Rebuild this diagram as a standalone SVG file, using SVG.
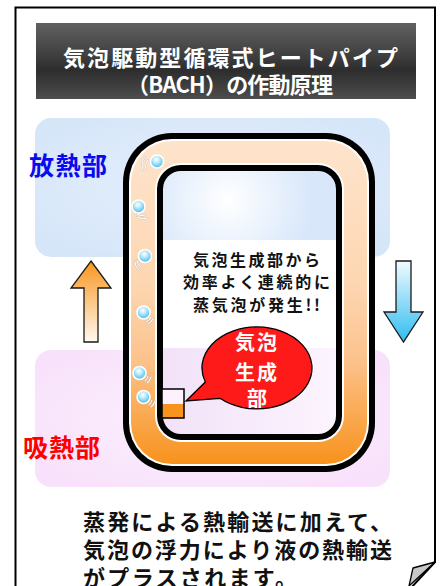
<svg xmlns="http://www.w3.org/2000/svg" width="441" height="586" viewBox="0 0 441 586">
  <style>
    .jp { font-family: "Noto Sans CJK JP", "Noto Sans", sans-serif; font-weight: 700; }
    .title { fill: #ffffff; font-size: 22px; }
    .zone-label { font-size: 25px; }
    .body { fill: #111111; font-size: 16px; }
    .call { fill: #ffffff; font-size: 20px; }
    .caption { fill: #111111; font-size: 22px; }
    .bubble { fill: url(#bubbleFill); stroke: #ffffff; stroke-width: 1.6; }
    .wave { fill: none; stroke: #ffffff; stroke-width: 1.1; stroke-linecap: round; }
    .wave-sh { fill: none; stroke: #a0a0a0; stroke-width: 1.8; stroke-linecap: round; opacity: 0.6; }
    .arrow { stroke: #1a1a1a; stroke-width: 1.3; stroke-linejoin: miter; }
  </style>
  <defs>
    <linearGradient id="titleFill" x1="0" y1="0" x2="0" y2="1">
      <stop offset="0" stop-color="#616161"/>
      <stop offset="0.45" stop-color="#3d3d3d"/>
      <stop offset="0.62" stop-color="#2d2d2d"/>
      <stop offset="1" stop-color="#4d4d4d"/>
    </linearGradient>
    <radialGradient id="coolFill" cx="0.5" cy="0.5" r="0.6">
      <stop offset="0" stop-color="#e6f0fc"/>
      <stop offset="1" stop-color="#d6e6f9"/>
    </radialGradient>
    <radialGradient id="warmFill" cx="0.5" cy="0.5" r="0.6">
      <stop offset="0" stop-color="#fcf0fd"/>
      <stop offset="1" stop-color="#f8e2fb"/>
    </radialGradient>
    <linearGradient id="pipeFill" gradientUnits="userSpaceOnUse" x1="0" y1="141" x2="0" y2="464">
      <stop offset="0" stop-color="#fee4cc"/>
      <stop offset="0.45" stop-color="#fdd6b1"/>
      <stop offset="0.68" stop-color="#fcc28c"/>
      <stop offset="0.85" stop-color="#faa951"/>
      <stop offset="1" stop-color="#f7921c"/>
    </linearGradient>
    <radialGradient id="innerGlow" gradientUnits="userSpaceOnUse" cx="228" cy="200" r="85">
      <stop offset="0" stop-color="#ffffff"/>
      <stop offset="1" stop-color="#d8e7fa"/>
    </radialGradient>
    <linearGradient id="innerWarm" x1="0" y1="0" x2="1" y2="0">
      <stop offset="0" stop-color="#f2e2f8"/>
      <stop offset="1" stop-color="#fcf4fe"/>
    </linearGradient>
    <radialGradient id="bubbleFill" cx="0.45" cy="0.35" r="0.65">
      <stop offset="0" stop-color="#ffffff"/>
      <stop offset="0.35" stop-color="#c4ecfc"/>
      <stop offset="1" stop-color="#3cbcee"/>
    </radialGradient>
    <linearGradient id="upFill" x1="0" y1="0" x2="0" y2="1">
      <stop offset="0" stop-color="#f8951f"/>
      <stop offset="1" stop-color="#fff9ef"/>
    </linearGradient>
    <linearGradient id="downFill" x1="0" y1="0" x2="0" y2="1">
      <stop offset="0" stop-color="#f2fbff"/>
      <stop offset="1" stop-color="#30bcf0"/>
    </linearGradient>
    <clipPath id="innerClip">
      <rect x="163" y="171" width="173" height="263" rx="18"/>
    </clipPath>
  </defs>

  <rect width="441" height="586" fill="#ffffff"/>

  <!-- page sheet with folded lower-right corner -->
  <g id="sheet">
    <path d="M15.5,592 V7.5 H435 V562 L409,590" fill="none" stroke="#000000" stroke-width="2"/>
    <polygon points="413,568 435,562 409,586" fill="#c8c8c8" stroke="#000000" stroke-width="1.3" stroke-linejoin="round"/>
  </g>

  <!-- heading -->
  <g id="title">
    <rect x="36" y="23" width="380" height="76" fill="url(#titleFill)"/>
    <text class="jp title" x="63" y="66" textLength="335" lengthAdjust="spacing">気泡駆動型循環式ヒートパイプ</text>
    <text class="jp title" x="127" y="93" textLength="206" lengthAdjust="spacing">（BACH）の作動原理</text>
  </g>

  <!-- heat release zone -->
  <g id="heat-release">
    <rect x="35" y="118" width="355" height="139" rx="16" fill="url(#coolFill)"/>
    <text class="jp zone-label" x="29" y="175" fill="#0a0aee" textLength="78" lengthAdjust="spacing">放熱部</text>
  </g>

  <!-- heat absorption zone -->
  <g id="heat-absorb">
    <rect x="35" y="350" width="355" height="137" rx="16" fill="url(#warmFill)"/>
    <text class="jp zone-label" x="23" y="457" fill="#ff0000" textLength="77" lengthAdjust="spacing">吸熱部</text>
  </g>

  <!-- loop pipe -->
  <g id="pipe">
    <rect x="123" y="133" width="252" height="339" rx="49" fill="#000000"/>
    <rect x="129" y="139" width="240" height="327" rx="43" fill="#ffffff"/>
    <rect x="131" y="141" width="236" height="323" rx="41" fill="url(#pipeFill)"/>
    <rect x="155" y="163" width="189" height="279" rx="26" fill="#ffffff"/>
    <rect x="157" y="165" width="185" height="275" rx="24" fill="#000000"/>
    <g clip-path="url(#innerClip)">
      <rect x="163" y="171" width="173" height="69" fill="url(#innerGlow)"/>
      <rect x="163" y="240" width="173" height="108" fill="#ffffff"/>
      <rect x="163" y="348" width="173" height="86" fill="url(#innerWarm)"/>
    </g>
  </g>

  <!-- rising bubbles in the pipe -->
  <g id="bubbles">
    <path class="wave-sh" d="M148,160 A10,10 0 0 0 146,169 M145,157 A13,13 0 0 0 143,170"/>
    <path class="wave" d="M148,160 A10,10 0 0 0 146,169 M145,157 A13,13 0 0 0 143,170"/>
    <circle class="bubble" cx="157" cy="161.5" r="6.5"/>

    <path class="wave-sh" d="M137,214 A9,9 0 0 0 145,215 M137,217 A12,12 0 0 0 147,218"/>
    <path class="wave" d="M137,214 A9,9 0 0 0 145,215 M137,217 A12,12 0 0 0 147,218"/>
    <circle class="bubble" cx="138.5" cy="206.5" r="6.5"/>

    <path class="wave-sh" d="M137,260 A9,9 0 0 0 141,267 M135,261 A12,12 0 0 0 139,270"/>
    <path class="wave" d="M137,260 A9,9 0 0 0 141,267 M135,261 A12,12 0 0 0 139,270"/>
    <circle class="bubble" cx="145" cy="256" r="6.5"/>

    <path class="wave-sh" d="M151,317 A9,9 0 0 1 146,322 M153,319 A12,12 0 0 1 148,324"/>
    <path class="wave" d="M151,317 A9,9 0 0 1 146,322 M153,319 A12,12 0 0 1 148,324"/>
    <circle class="bubble" cx="143.5" cy="312.5" r="6.5"/>

    <path class="wave-sh" d="M148,376 A9,9 0 0 1 145,381 M151,377 A12,12 0 0 1 147,383"/>
    <path class="wave" d="M148,376 A9,9 0 0 1 145,381 M151,377 A12,12 0 0 1 147,383"/>
    <circle class="bubble" cx="139.5" cy="373" r="6.5"/>

    <path class="wave-sh" d="M152,400 A9,9 0 0 1 149,405 M155,401 A12,12 0 0 1 151,407"/>
    <path class="wave" d="M152,400 A9,9 0 0 1 149,405 M155,401 A12,12 0 0 1 151,407"/>
    <circle class="bubble" cx="143.5" cy="397" r="6.5"/>
  </g>

  <!-- explanation inside the loop -->
  <g id="generation-note">
    <text class="jp body" x="193" y="266" textLength="127" lengthAdjust="spacing">気泡生成部から</text>
    <text class="jp body" x="183" y="288" textLength="147" lengthAdjust="spacing">効率よく連続的に</text>
    <text class="jp body" x="193" y="311" textLength="127" lengthAdjust="spacing">蒸気泡が発生!!</text>
  </g>

  <!-- bubble generator block -->
  <g id="generator">
    <rect x="162" y="389" width="22" height="29" fill="#fdf1fd"/>
    <rect x="162" y="404" width="22" height="14" fill="#f7931e"/>
    <rect x="162" y="389" width="22" height="29" fill="none" stroke="#000000" stroke-width="1.5"/>
  </g>

  <!-- callout -->
  <g id="callout">
    <path d="M186,401 L205.3,382 A55,41 0 1 1 220,398.3 Z" fill="#ff1a1a" stroke="#000000" stroke-width="1.3" stroke-linejoin="miter"/>
    <text class="jp call" x="257" y="350" text-anchor="middle" letter-spacing="2">気泡</text>
    <text class="jp call" x="257" y="380" text-anchor="middle" letter-spacing="2">生成</text>
    <text class="jp call" x="257" y="406" text-anchor="middle">部</text>
  </g>

  <!-- flow direction arrows -->
  <g id="connectors">
    <polygon class="arrow" fill="url(#upFill)" points="91,261 111,288 98,288 98,342 84,342 84,288 71,288"/>
    <polygon class="arrow" fill="url(#downFill)" points="396,261 411,261 411,312 423,312 403.5,342 384,312 396,312"/>
  </g>

  <!-- summary text -->
  <g id="summary">
    <text class="jp caption" x="83" y="530" textLength="309" lengthAdjust="spacing">蒸発による熱輸送に加えて、</text>
    <text class="jp caption" x="83" y="558" textLength="309" lengthAdjust="spacing">気泡の浮力により液の熱輸送</text>
    <text class="jp caption" x="83" y="586" textLength="214" lengthAdjust="spacing">がプラスされます。</text>
  </g>
</svg>
